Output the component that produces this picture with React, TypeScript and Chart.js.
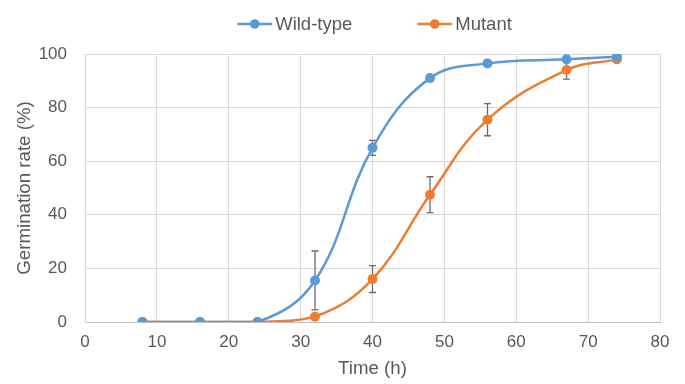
import { useEffect, useRef } from 'react';
import { Chart, registerables } from 'chart.js';

Chart.register(...registerables);

const timeHours = [8, 16, 24, 32, 40, 48, 56, 67, 74];
const wildType = [0, 0, 0, 15.5, 65, 91, 96.5, 98, 99];
const wildTypeErr = [0, 0, 0, 11, 2.8, 0, 0, 0, 0];
const mutant = [0, 0, 0, 2, 16, 47.5, 75.5, 94, 98];
const mutantErr = [0, 0, 0, 0, 5, 6.7, 6, 3.4, 0];
const seriesNames = ['Wild-type', 'Mutant'];
const xAxisTitle = 'Time (h)';
const yAxisTitle = 'Germination rate (%)';

const BLUE = '#5B9BD5';
const ORANGE = '#ED7D31';
const TEXT = '#595959';
const FONT = "'Liberation Sans', Arial, sans-serif";

const errorBarPlugin = {
  id: 'errorBars',
  beforeDatasetsDraw(chart: any) {
    const ctx = chart.ctx;
    const xScale = chart.scales.x;
    const yScale = chart.scales.y;
    ctx.save();
    ctx.strokeStyle = '#6B6B6B';
    ctx.lineWidth = 1.3;
    chart.data.datasets.forEach((ds: any) => {
      const errs: number[] = ds.errors || [];
      ds.data.forEach((pt: any, i: number) => {
        const e = errs[i];
        if (!e) return;
        const x = xScale.getPixelForValue(pt.x);
        const yt = yScale.getPixelForValue(pt.y + e);
        const yb = yScale.getPixelForValue(pt.y - e);
        ctx.beginPath();
        ctx.moveTo(x, yt);
        ctx.lineTo(x, yb);
        ctx.moveTo(x - 3.5, yt);
        ctx.lineTo(x + 3.5, yt);
        ctx.moveTo(x - 3.5, yb);
        ctx.lineTo(x + 3.5, yb);
        ctx.stroke();
      });
    });
    ctx.restore();
  },
};

const lineLegendPlugin = {
  id: 'lineLegend',
  afterDraw(chart: any) {
    const ctx = chart.ctx;
    const area = chart.chartArea;
    const fontSize = 18.5;
    const lineLen = 35;
    const textGap = 3;
    const itemGap = 65;
    const y = 24;
    ctx.save();
    ctx.font = `${fontSize}px ${FONT}`;
    const items = chart.data.datasets.map((ds: any) => ({
      label: ds.label as string,
      color: ds.borderColor as string,
      w: ctx.measureText(ds.label).width,
    }));
    const total =
      items.reduce((s: number, it: any) => s + lineLen + textGap + it.w, 0) + itemGap * (items.length - 1);
    let x = (area.left + area.right) / 2 + 2 - total / 2;
    items.forEach((it: any) => {
      ctx.strokeStyle = it.color;
      ctx.lineWidth = 2.5;
      ctx.beginPath();
      ctx.moveTo(x, y);
      ctx.lineTo(x + lineLen, y);
      ctx.stroke();
      ctx.fillStyle = it.color;
      ctx.beginPath();
      ctx.arc(x + lineLen / 2, y, 4.8, 0, Math.PI * 2);
      ctx.fill();
      ctx.fillStyle = TEXT;
      ctx.textBaseline = 'middle';
      ctx.textAlign = 'left';
      ctx.fillText(it.label, x + lineLen + textGap, y + 1);
      x += lineLen + textGap + it.w + itemGap;
    });
    ctx.restore();
  },
};

export default function App() {
  const ref = useRef<HTMLCanvasElement>(null);

  useEffect(() => {
    document.body.style.margin = '0';
    const chart = new Chart(ref.current!, {
      type: 'line',
      data: {
        datasets: [
          {
            label: seriesNames[0],
            data: timeHours.map((t, i) => ({ x: t, y: wildType[i] })),
            errors: wildTypeErr,
            borderColor: BLUE,
            backgroundColor: BLUE,
            borderWidth: 2.5,
            pointRadius: 5,
            pointHoverRadius: 5,
            pointBorderWidth: 0,
            tension: 0.4,
          } as any,
          {
            label: seriesNames[1],
            data: timeHours.map((t, i) => ({ x: t, y: mutant[i] })),
            errors: mutantErr,
            borderColor: ORANGE,
            backgroundColor: ORANGE,
            borderWidth: 2.5,
            pointRadius: 5,
            pointHoverRadius: 5,
            pointBorderWidth: 0,
            tension: 0.4,
          } as any,
        ],
      },
      options: {
        animation: false,
        responsive: false,
        layout: { padding: { top: 54, right: 25, bottom: 2, left: 6 } },
        plugins: {
          tooltip: { enabled: false },
          legend: { display: false },
        },
        scales: {
          x: {
            type: 'linear',
            min: 0,
            max: 80,
            afterFit: (scale: any) => {
              scale.height = 60;
            },
            ticks: { stepSize: 10, color: TEXT, font: { family: FONT, size: 17 }, padding: 10 },
            grid: { color: '#D9D9D9', drawTicks: false },
            border: { color: '#BFBFBF' },
            title: {
              display: true,
              text: xAxisTitle,
              color: TEXT,
              font: { family: FONT, size: 18.7 },
              padding: { top: 4, bottom: 2 },
            },
          },
          y: {
            min: 0,
            max: 100,
            afterFit: (scale: any) => {
              scale.width = 79;
            },
            ticks: { stepSize: 20, color: TEXT, font: { family: FONT, size: 17 }, padding: 18 },
            grid: { color: '#D9D9D9', drawTicks: false },
            border: { color: '#D9D9D9' },
            title: {
              display: true,
              text: yAxisTitle,
              color: TEXT,
              font: { family: FONT, size: 18.7 },
              padding: { top: 8, bottom: 2 },
            },
          },
        },
      },
      plugins: [errorBarPlugin, lineLegendPlugin],
    });
    return () => chart.destroy();
  }, []);

  return <canvas ref={ref} width={685} height={384} style={{ display: 'block' }} />;
}
